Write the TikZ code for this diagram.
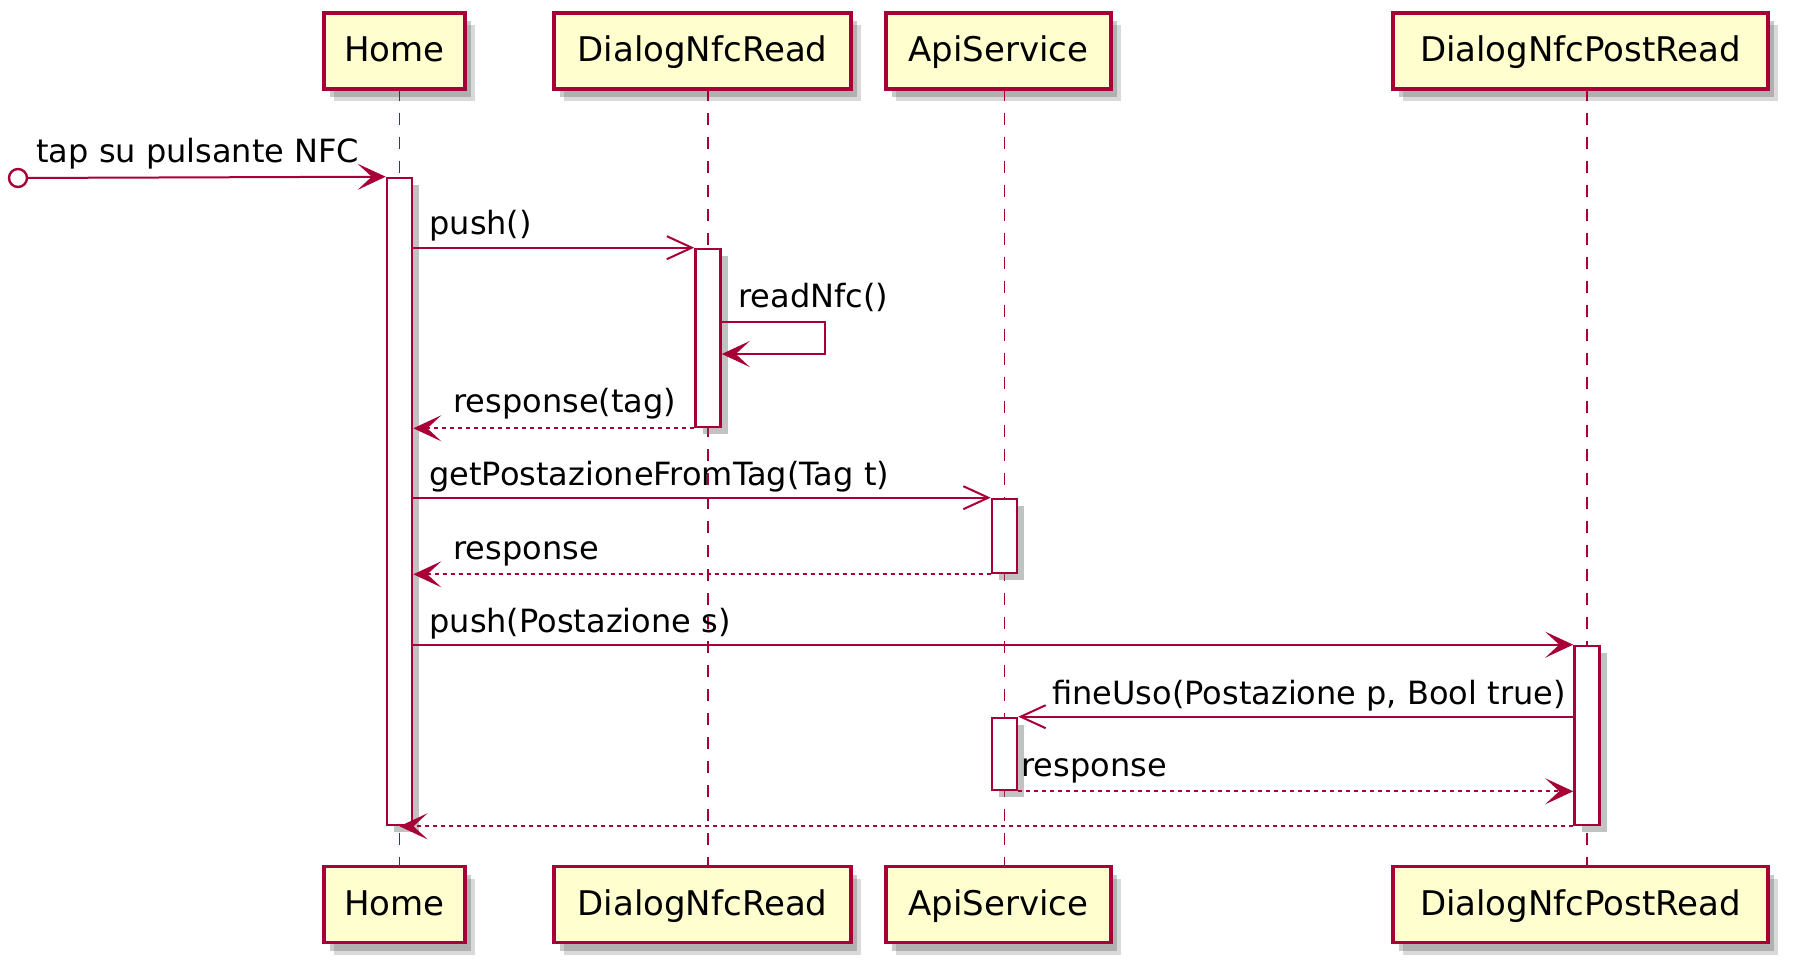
\documentclass[tikz,border=0pt]{standalone}
\usepackage{fontspec}
\setmainfont{DejaVu Sans}
\usetikzlibrary{arrows.meta,shadows}
\definecolor{umlRed}{HTML}{A80036}
\definecolor{umlFill}{HTML}{FEFECE}
\begin{document}
\begin{tikzpicture}[x=0.5pt,y=-0.5pt,
  part/.style={draw=umlRed,fill=umlFill,line width=1.6pt,inner sep=0pt,minimum height=38pt,
    text height=14pt,text depth=3pt,font=\fontsize{17}{20}\selectfont,
    drop shadow={shadow xshift=5pt,shadow yshift=-6pt,opacity=0.25,fill=black!60},
    drop shadow={shadow xshift=3pt,shadow yshift=-4pt,opacity=0.35,fill=black!60}},
  bar/.style={draw=umlRed,fill=white,line width=1.3pt,inner sep=0pt,minimum width=12.5pt,
    drop shadow={shadow xshift=3.5pt,shadow yshift=-3.5pt,opacity=0.4,fill=black!60}},
  lifeline/.style={draw=umlRed,line width=0.9pt,dash pattern={on 6pt off 6pt}},
  sync/.style={draw=umlRed,line width=1pt,-{Stealth[length=14pt,width=13pt,inset=7pt,umlRed]}},
  async/.style={draw=umlRed,line width=1pt,-{Straight Barb[length=12.5pt,width=11.5pt]}},
  reply/.style={sync,dash pattern={on 2pt off 2pt}},
  msg/.style={anchor=base west,inner sep=0pt,font=\fontsize{16}{19}\selectfont}]
\useasboundingbox (0,0) rectangle (1800,973);

%Shape: Participants top
\node[part,minimum width=70.5pt] (homeTop) at (394.5,51) {Home};
\node[part,minimum width=148.5pt] (dnrTop) at (702.5,51) {DialogNfcRead};
\node[part,minimum width=112.5pt] (apiTop) at (998.5,51) {ApiService};
\node[part,minimum width=187.5pt] (postTop) at (1580.5,51) {DialogNfcPostRead};
%Shape: Participants bottom
\node[part,minimum width=70.5pt] (homeBot) at (394.5,904.5) {Home};
\node[part,minimum width=148.5pt] (dnrBot) at (702.5,904.5) {DialogNfcRead};
\node[part,minimum width=112.5pt] (apiBot) at (998.5,904.5) {ApiService};
\node[part,minimum width=187.5pt] (postBot) at (1580.5,904.5) {DialogNfcPostRead};

%Straight Lines: lifelines
\draw[lifeline] (399.5,89) coordinate (homeL) -- (homeL |- homeBot.north);
\draw[lifeline] (708,89) coordinate (dnrL) -- (dnrL |- dnrBot.north);
\draw[lifeline] (1004.5,89) coordinate (apiL) -- (apiL |- apiBot.north);
\draw[lifeline] (1587,89) coordinate (postL) -- (postL |- postBot.north);

%Shape: Activation bars
\node[bar,minimum height=323.5pt] (barHome) at (399.5,501.5) {};
\node[bar,minimum height=89pt] (barDnr) at (708,338) {};
\node[bar,minimum height=37pt] (barApiA) at (1004.5,536) {};
\node[bar,minimum height=89.5pt] (barPost) at (1587,735.5) {};
\node[bar,minimum height=36pt] (barApiB) at (1004.5,754) {};

%Shape: start circle
\node[circle,draw=umlRed,fill=white,line width=1.2pt,inner sep=0pt,minimum size=9pt] (start) at (18,178) {};

%Straight Lines: messages
\draw[sync] (start) -- (barHome.north west);
\draw[async] (barHome.east |- barDnr.north) -- (barDnr.north west);
\draw[sync] (barDnr.east |- 0,322) coordinate (selfA) -- (825,322) -- (825,354) -- (selfA |- 0,354);
\draw[reply] (barDnr.south west) -- (barHome.east |- barDnr.south);
\draw[async] (barHome.east |- barApiA.north) -- (barApiA.north west);
\draw[reply] (barApiA.south west) -- (barHome.east |- barApiA.south);
\draw[sync] (barHome.east |- barPost.north) -- (barPost.north west);
\draw[async] (barPost.west |- barApiB.north) -- (barApiB.north east);
\draw[reply] (barApiB.south east) -- (barPost.west |- barApiB.south);
\draw[reply] (barPost.south west) -- (barHome.south);

% Text Node
\draw (36,163) node [msg] (lblTap) {tap su pulsante NFC};
% Text Node
\draw (429,235) node [msg] (lblPush) {push()};
% Text Node
\draw (738,308) node [msg] (lblRead) {readNfc()};
% Text Node
\draw (453,413) node [msg] (lblResTag) {response(tag)};
% Text Node
\draw (429,485) node [msg] (lblGet) {getPostazioneFromTag(Tag t)};
% Text Node
\draw (453,559) node [msg] (lblResA) {response};
% Text Node
\draw (429,632) node [msg] (lblPushS) {push(Postazione s)};
% Text Node
\draw (1566,704) node [msg,anchor=base east] (lblFine) {fineUso(Postazione p, Bool true)};
% Text Node
\draw (1021,776) node [msg] (lblResB) {response};

\end{tikzpicture}
\end{document}
